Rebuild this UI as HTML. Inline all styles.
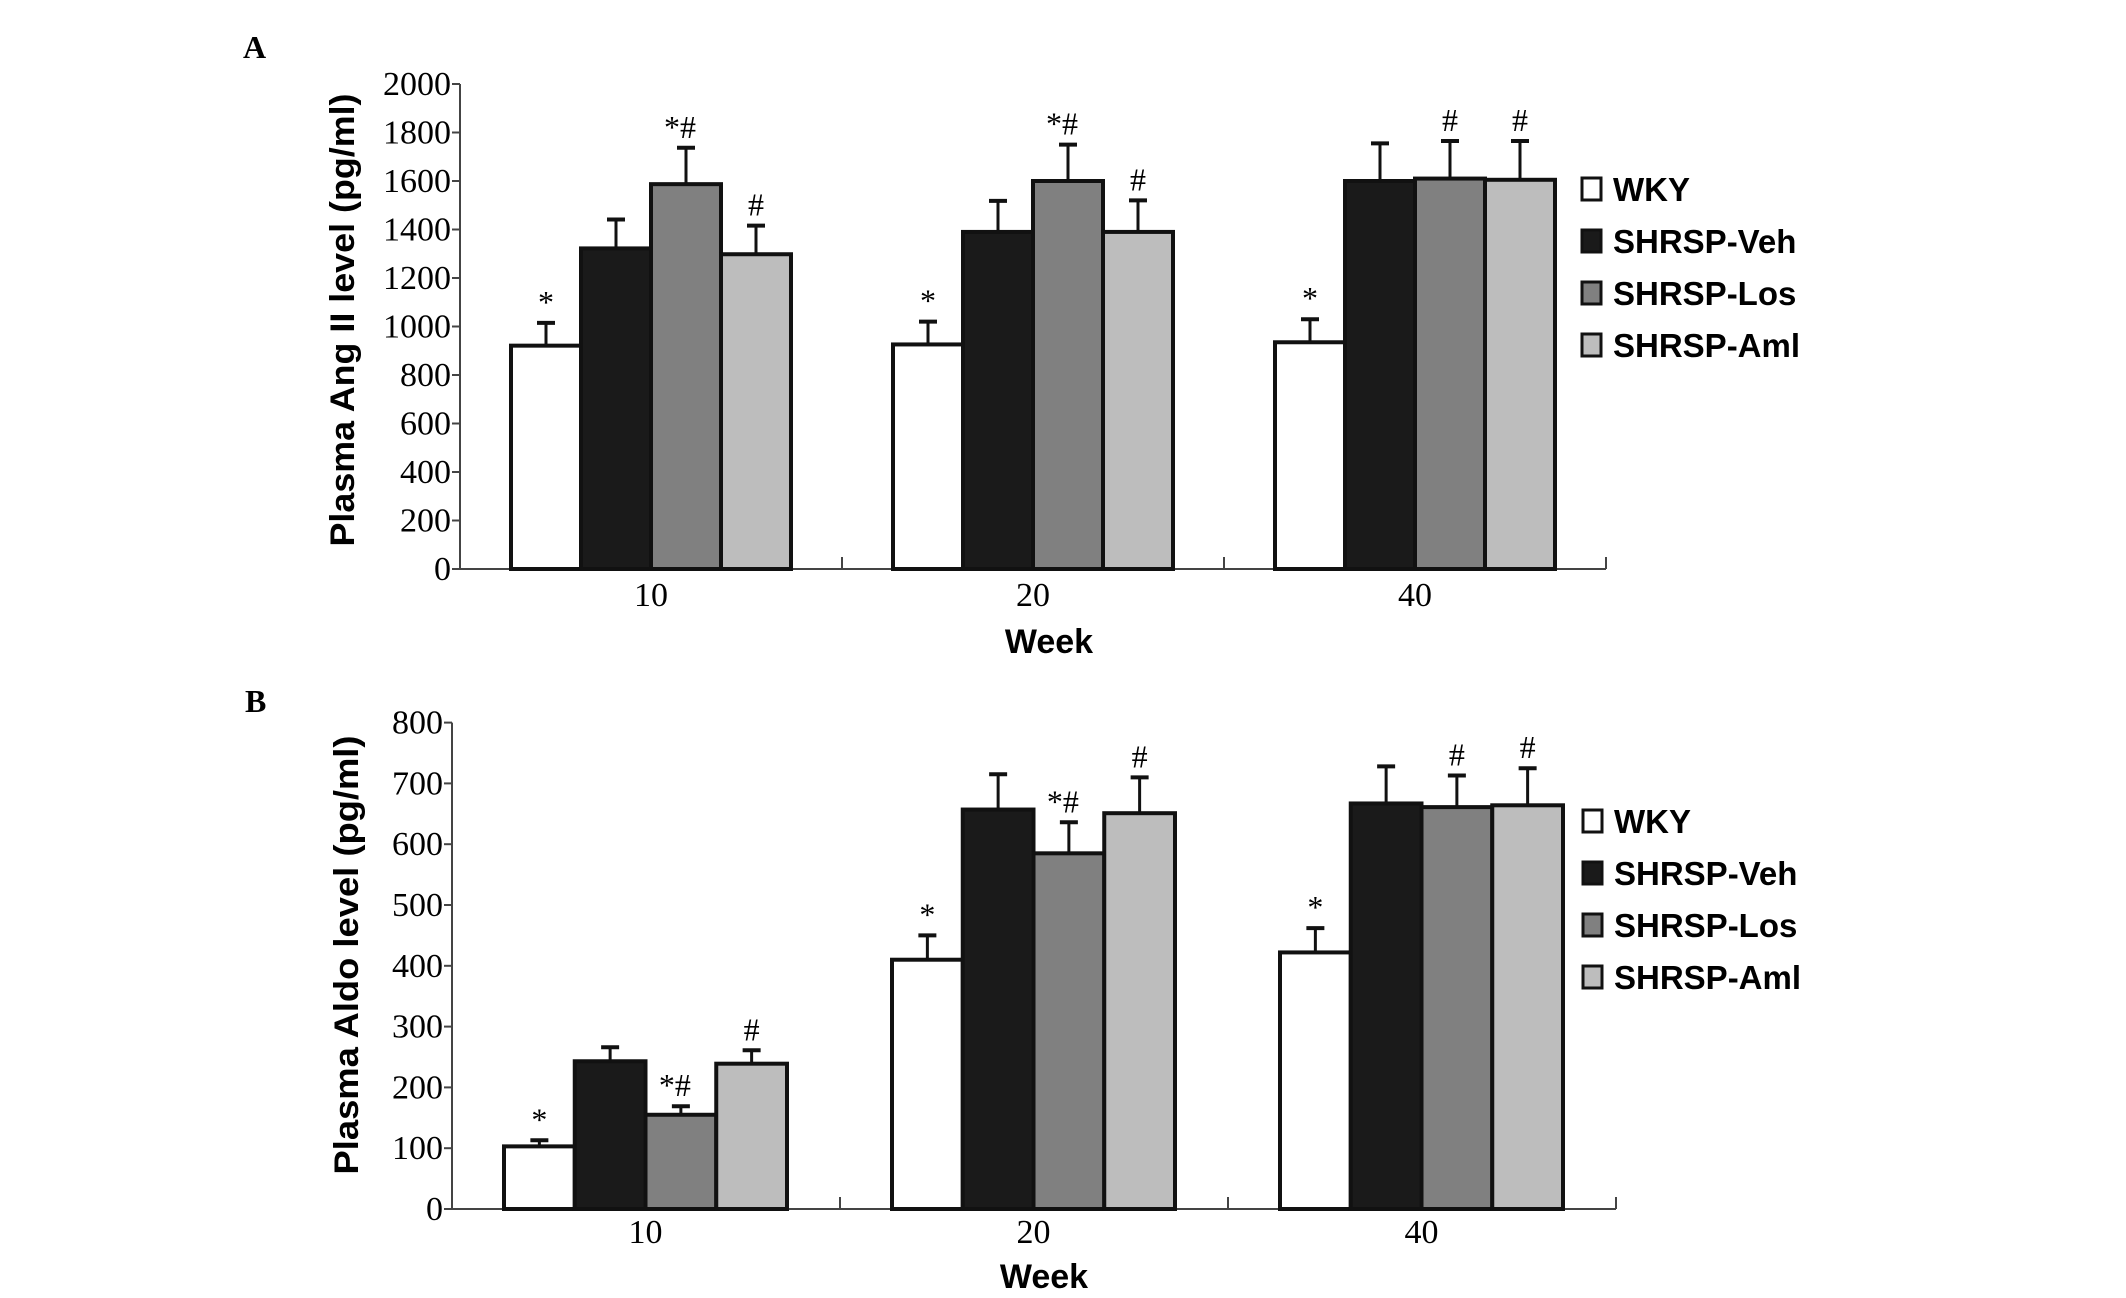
<!DOCTYPE html>
<html><head><meta charset="utf-8"><style>
html,body{margin:0;padding:0;background:#fff}
svg{display:block}
.tk{font-family:"Liberation Serif",serif;font-size:34px;fill:#000}
.bt{font-family:"Liberation Sans",sans-serif;font-weight:bold;fill:#000}
.an{font-family:"Liberation Serif",serif;font-size:32px;fill:#000}
</style></head><body>
<svg id="chart" width="2126" height="1298" viewBox="0 0 2126 1298" xmlns="http://www.w3.org/2000/svg">
<text x="243" y="58" style="font-family:'Liberation Serif',serif;font-weight:bold;font-size:32px">A</text>
<text x="245" y="712" style="font-family:'Liberation Serif',serif;font-weight:bold;font-size:32px">B</text>
</svg>
<script>
const weeks = ["10","20","40"];
const groups = ["WKY","SHRSP-Veh","SHRSP-Los","SHRSP-Aml"];
const fills = ["#ffffff","#1a1a1a","#808080","#bdbdbd"];
const angTicks = [0,200,400,600,800,1000,1200,1400,1600,1800,2000];
const angWKY = [921,926,935];
const angVeh = [1322,1390,1600];
const angLos = [1587,1600,1610];
const angAml = [1298,1390,1605];
const angWKYsd = [94,94,95];
const angVehsd = [119,128,155];
const angLossd = [150,150,155];
const angAmlsd = [118,130,160];
const angMarks = [["*","","*#","#"],["*","","*#","#"],["*","","#","#"]];
const aldoTicks = [0,100,200,300,400,500,600,700,800];
const aldoWKY = [103,410,422];
const aldoVeh = [243,657,667];
const aldoLos = [155,585,661];
const aldoAml = [239,651,664];
const aldoWKYsd = [10,40,40];
const aldoVehsd = [23,58,61];
const aldoLossd = [14,51,52];
const aldoAmlsd = [22,59,61];
const aldoMarks = [["*","","*#","#"],["*","","*#","#"],["*","","#","#"]];

const svg = document.getElementById('chart');
const NS = "http://www.w3.org/2000/svg";
function mk(tag, attrs, parent){
  const e = document.createElementNS(NS, tag);
  for (const k in attrs) e.setAttribute(k, attrs[k]);
  (parent||svg).appendChild(e); return e;
}
function panel(cfg){
  const g = mk('g', {});
  
  
  const y = v => cfg.y0 - (v - 0) / cfg.max * (cfg.y0 - cfg.yTop);
  const gx = i => cfg.g0 + i * cfg.gs;
  const axEnd = cfg.ax + weeks.length * cfg.gs;
  const ya = mk('line', {x1:cfg.ax, y1:cfg.yTop, x2:cfg.ax, y2:cfg.y0, stroke:'#444', 'stroke-width':2}, g);
  
  
  const xa = mk('line', {x1:cfg.ax, y1:cfg.y0, x2:axEnd, y2:cfg.y0, stroke:'#444', 'stroke-width':2}, g);
  
  
  cfg.ticks.forEach(t => {
    mk('line', {x1:cfg.ax-8, y1:y(t), x2:cfg.ax, y2:y(t), stroke:'#444', 'stroke-width':2}, g);
    const tx = mk('text', {x:cfg.ax-9, y:y(t)+11, 'text-anchor':'end', class:'tk'}, g);
    tx.textContent = t;
    
    
  });
  for (let i = 1; i <= weeks.length; i++) {
    const xt = cfg.ax + i * cfg.gs;
    mk('line', {x1:xt, y1:cfg.y0-12, x2:xt, y2:cfg.y0, stroke:'#444', 'stroke-width':2}, g);
  }
  weeks.forEach((w, i) => {
    const cx = gx(i) + 2 * cfg.bw;
    const t = mk('text', {x:cx, y:cfg.catY, 'text-anchor':'middle', class:'tk'}, g);
    t.textContent = w;
    
    
    cfg.series.forEach((s, j) => {
      const v = s[i], sd = cfg.sds[j][i];
      const x = gx(i) + j * cfg.bw;
      const bx = x + cfg.bw/2;
      const el = mk('line', {x1:bx, y1:y(v), x2:bx, y2:y(v+sd), stroke:'#111', 'stroke-width':3}, g);
      
      
      mk('line', {x1:bx-9, y1:y(v+sd), x2:bx+9, y2:y(v+sd), stroke:'#111', 'stroke-width':4}, g);
      const r = mk('rect', {x:x, y:y(v), width:cfg.bw, height:cfg.y0-y(v), fill:fills[j], stroke:'#111', 'stroke-width':4}, g);
      
      
      const m = cfg.marks[i][j];
      if (m) {
        const a = mk('text', {x:bx + (m.length>1?-6:0), y:y(v+sd)-10, 'text-anchor':'middle', class:'an'}, g);
        a.textContent = m;
        
        
      }
    });
  });
  const wk = mk('text', {x:cfg.weekX, y:cfg.weekY, 'text-anchor':'middle', class:'bt', 'font-size':34}, g);
  wk.textContent = 'Week';
  
  
  const yt = mk('text', {x:0, y:0, 'text-anchor':'middle', class:'bt', 'font-size':34, textLength:cfg.ytLen, lengthAdjust:'spacingAndGlyphs', transform:`translate(${cfg.ytX},${cfg.ytY}) rotate(-90)`}, g);
  yt.textContent = cfg.ytitle;
  
  
  groups.forEach((n, j) => {
    const ly = cfg.legY + j * cfg.legS;
    const sq = mk('rect', {x:cfg.legX, y:ly-11, width:19, height:22, fill:fills[j], stroke:'#111', 'stroke-width':3}, g);
    
    
    const lt = mk('text', {x:cfg.legX+31, y:ly+12, class:'bt', 'font-size':33}, g);
    lt.textContent = n;
    
    
  });
}
panel({name:'panel-a-ang-ii', ax:460, y0:569, yTop:84, max:2000, ticks:angTicks,
  g0:511, gs:382, bw:70, series:[angWKY,angVeh,angLos,angAml], sds:[angWKYsd,angVehsd,angLossd,angAmlsd],
  marks:angMarks, catY:606, weekX:1049, weekY:653, ytitle:'Plasma Ang II level (pg/ml)', ytX:354, ytY:320, ytLen:453,
  legX:1582, legY:189, legS:52});
panel({name:'panel-b-aldo', ax:452, y0:1209, yTop:722.6, max:800, ticks:aldoTicks,
  g0:504, gs:388, bw:70.75, series:[aldoWKY,aldoVeh,aldoLos,aldoAml], sds:[aldoWKYsd,aldoVehsd,aldoLossd,aldoAmlsd],
  marks:aldoMarks, catY:1243, weekX:1044, weekY:1288, ytitle:'Plasma Aldo level (pg/ml)', ytX:358, ytY:955, ytLen:439,
  legX:1583, legY:821, legS:52});
</script>
</body></html>
